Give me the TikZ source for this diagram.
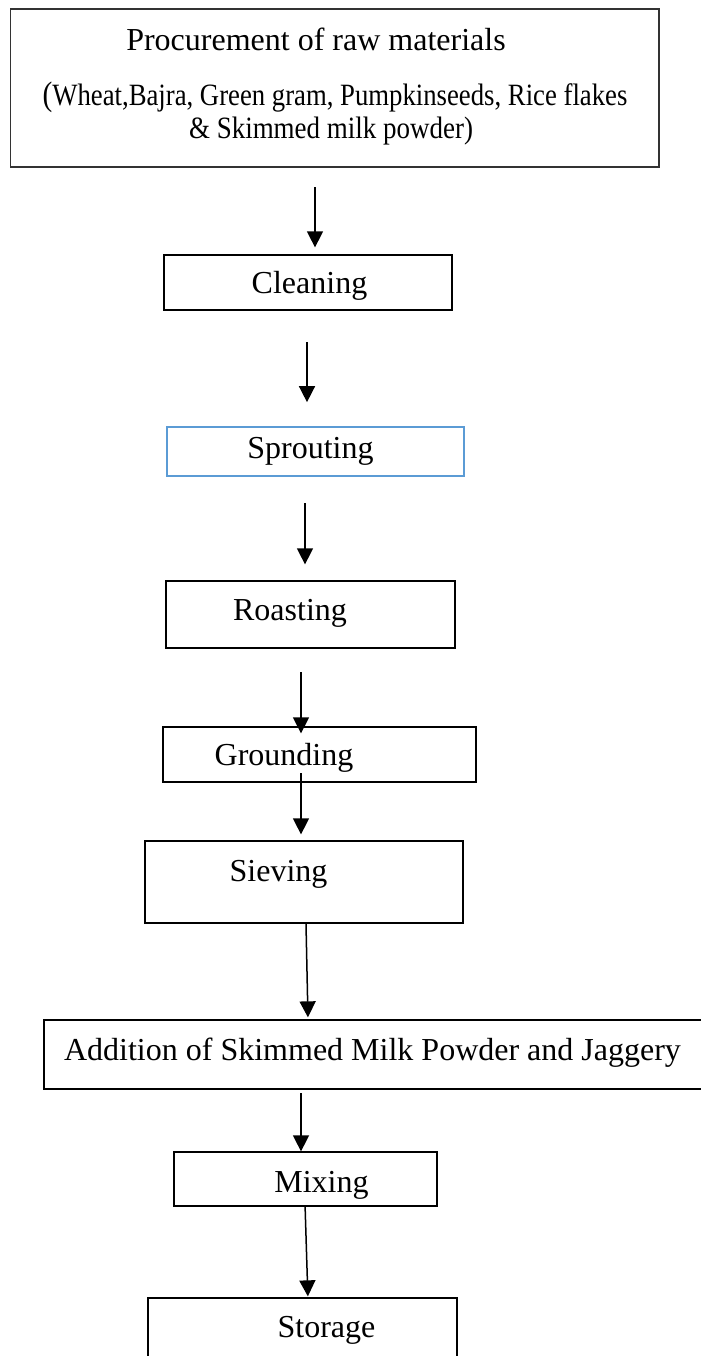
\documentclass[tikz,border=0pt]{standalone}
\usepackage{fontspec}
\setmainfont{Liberation Serif}
\usepackage{xcolor}
\usetikzlibrary{arrows.meta}
\definecolor{boxblue}{RGB}{91,155,213}

\begin{document}
\begin{tikzpicture}[x=0.5pt,y=-0.5pt,
  box/.style={draw,line width=0.65pt,inner sep=0pt},
  lbl/.style={anchor=base,inner sep=0pt,font=\fontsize{16}{19}\selectfont},
  sublbl/.style={anchor=base,inner sep=0pt,font=\fontsize{15.5}{18}\selectfont},
  arr/.style={-{Triangle[length=8pt,width=8pt]},line width=0.75pt}]
\useasboundingbox (0,0) rectangle (701,1356);
% boxes
\node[box,draw=black!80,line width=0.8pt,minimum width=324.2pt,minimum height=79pt] (proc) at (334.8,88) {};
\node[box,minimum width=144pt,minimum height=27.5pt] (clean) at (308,282.5) {};
\node[box,draw=boxblue,line width=0.85pt,minimum width=148.5pt,minimum height=24.5pt] (sprout) at (315.5,451.5) {};
\node[box,minimum width=144.5pt,minimum height=33.5pt] (roast) at (310.5,614.5) {};
\node[box,minimum width=156.5pt,minimum height=27.5pt] (ground) at (319.5,754.5) {};
\node[box,minimum width=159pt,minimum height=41pt] (sieve) at (304,882) {};
\node[box,minimum width=338pt,minimum height=34.5pt] (addit) at (382,1054.5) {};
\node[box,minimum width=131.5pt,minimum height=27pt] (mix) at (305.5,1179) {};
\node[box,minimum width=154.5pt,minimum height=51pt] (store) at (302.5,1349) {};
% texts
\node[lbl] (procA) at (316,50) {Procurement of raw materials};
\node[sublbl] (procB) at (335,105) {\scalebox{0.862}[1]{{\fontsize{17}{19}\selectfont(}Wheat,Bajra, Green gram, Pumpkinseeds, Rice flakes}};
\node[sublbl] (procC) at (331,138) {\scalebox{0.87}[1]{\& Skimmed milk powder)}};
\node[lbl] (cleanT) at (309.5,293) {Cleaning};
\node[lbl] (sproutT) at (310.5,458) {Sprouting};
\node[lbl] (roastT) at (290,620) {Roasting};
\node[lbl] (groundT) at (284,765) {Grounding};
\node[lbl] (sieveT) at (278.5,881) {Sieving};
\node[lbl] (additT) at (372.5,1060) {Addition of Skimmed Milk Powder and Jaggery};
\node[lbl] (mixT) at (321.5,1192) {Mixing};
\node[lbl] (storeT) at (326.5,1337) {Storage};
% arrows
\coordinate (a1) at (315,187);
\coordinate (a2) at (307,342);
\coordinate (a3) at (305,503);
\coordinate (a4) at (301,672);
\coordinate (a5) at (301,773);
\coordinate (a7) at (301,1093);
\draw[arr,shorten >=3.5pt] (a1) -- (a1 |- clean.north);
\draw[arr,shorten >=12pt] (a2) -- (a2 |- sprout.north);
\draw[arr,shorten >=8pt] (a3) -- (a3 |- roast.north);
\draw[arr,shorten >=-3.5pt] (a4) -- (a4 |- ground.north);
\draw[arr,shorten >=3pt] (a5) -- (a5 |- sieve.north);
\draw[arr,shorten >=1pt] ([xshift=1pt]sieve.south) -- ([xshift=-37pt]addit.north);
\draw[arr] (a7) -- (a7 |- mix.north);
\draw[arr,shorten >=0.5pt] ([xshift=-0.2pt]mix.south) -- ([xshift=2.7pt]store.north);
\end{tikzpicture}
\end{document}
